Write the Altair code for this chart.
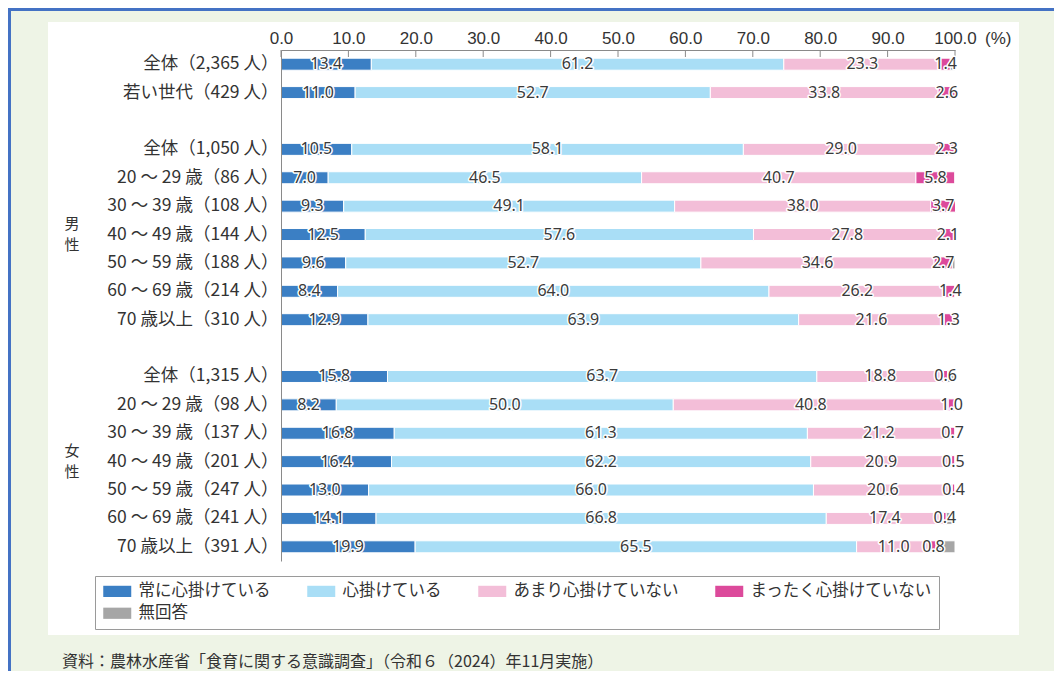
import altair as alt
import pandas as pd

# ---- data ----
rows = [
    "全体（2,365 人）",
    "若い世代（429 人）",
    "全体（1,050 人）",
    "20 ～ 29 歳（86 人）",
    "30 ～ 39 歳（108 人）",
    "40 ～ 49 歳（144 人）",
    "50 ～ 59 歳（188 人）",
    "60 ～ 69 歳（214 人）",
    "70 歳以上（310 人）",
    "全体（1,315 人）",
    "20 ～ 29 歳（98 人）",
    "30 ～ 39 歳（137 人）",
    "40 ～ 49 歳（201 人）",
    "50 ～ 59 歳（247 人）",
    "60 ～ 69 歳（241 人）",
    "70 歳以上（391 人）",
]
row_order = rows[:2] + [" "] + rows[2:9] + ["  "] + rows[9:]

categories = ["常に心掛けている", "心掛けている", "あまり心掛けていない", "まったく心掛けていない", "無回答"]
colors = ["#3b7fc4", "#a9def6", "#f3bed8", "#dc4a9b", "#a6a6a6"]

always = [13.4, 11.0, 10.5, 7.0, 9.3, 12.5, 9.6, 8.4, 12.9, 15.8, 8.2, 16.8, 16.4, 13.0, 14.1, 19.9]
somewhat = [61.2, 52.7, 58.1, 46.5, 49.1, 57.6, 52.7, 64.0, 63.9, 63.7, 50.0, 61.3, 62.2, 66.0, 66.8, 65.5]
not_much = [23.3, 33.8, 29.0, 40.7, 38.0, 27.8, 34.6, 26.2, 21.6, 18.8, 40.8, 21.2, 20.9, 20.6, 17.4, 11.0]
never = [1.4, 2.6, 2.3, 5.8, 3.7, 2.1, 2.7, 1.4, 1.3, 0.6, 1.0, 0.7, 0.5, 0.4, 0.4, 0.8]
no_answer = [0.7, 0.0, 0.1, 0.0, 0.0, 0.0, 0.4, 0.0, 0.3, 1.1, 0.0, 0.0, 0.0, 0.0, 1.3, 2.8]

group_top_chars = ["男", "女"]
group_bottom_chars = ["性", "性"]
group_rows = ["40 ～ 49 歳（144 人）", "40 ～ 49 歳（201 人）"]

x_ticks = [0, 10, 20, 30, 40, 50, 60, 70, 80, 90, 100]

footer = "資料：農林水産省「食育に関する意識調査」（令和６（2024）年11月実施）"

series = [always, somewhat, not_much, never, no_answer]
records = []
for i, r in enumerate(rows):
    for k, cat in enumerate(categories):
        records.append({"row": r, "cat": cat, "order": k, "value": series[k][i],
                        "show": 1 if k < 4 else 0})
df = pd.DataFrame(records)

W, H = 674, 511
JP = "Noto Sans CJK JP"
TXT = "#333333"

x_axis = alt.Axis(orient="top", values=x_ticks, format=".1f", title=None, ticks=False,
                  tickSize=0, labelFlush=False, labelOverlap=False, labelFontSize=17,
                  labelFont="Liberation Sans", labelColor=TXT, labelPadding=3,
                  domainColor="#8a8a8a", grid=False, zindex=2)
y_axis = alt.Axis(title=None, ticks=False, labelFontSize=17.5, labelFont=JP, labelColor=TXT,
                  labelPadding=3, labelLimit=400, domainColor="#8a8a8a", grid=False, zindex=2)

x_scale = alt.Scale(domain=[0, 100], nice=False, zero=True)
y_scale = alt.Scale(domain=row_order, paddingOuter=0, paddingInner=0)

one = alt.Data(values=[{"a": 1}])

# decorations
panel = alt.Chart(one).mark_rect(color="white").encode(
    x=alt.value(-233), x2=alt.value(738), y=alt.value(-28), y2=alt.value(585))
top_border = alt.Chart(one).mark_rect(color="#4472c4").encode(
    x=alt.value(-273), x2=alt.value(773), y=alt.value(-42), y2=alt.value(-39))
left_border = alt.Chart(one).mark_rect(color="#4472c4").encode(
    x=alt.value(-273), x2=alt.value(-270), y=alt.value(-42), y2=alt.value(621))

stacked = alt.Chart(df).transform_stack(
    stack="value", groupby=["row"], as_=["v0", "v1"], sort=[alt.SortField("order")]
).transform_calculate(mid="(datum.v0 + datum.v1) / 2")

bars = stacked.mark_bar(size=12, stroke="white", strokeWidth=1).encode(
    x=alt.X("v0:Q", scale=x_scale, axis=x_axis),
    x2="v1:Q",
    y=alt.Y("row:N", scale=y_scale, axis=y_axis),
    color=alt.Color("cat:N", scale=alt.Scale(domain=categories, range=colors),
                    legend=alt.Legend(title=None, orient="none", legendX=-186, legendY=526,
                                      columns=4, direction="horizontal",
                                      symbolType="M-2,-0.8L2,-0.8L2,0.8L-2,0.8Z",
                                      symbolSize=196, symbolOffset=7, symbolStrokeWidth=0,
                                      labelFontSize=16.5, labelFont=JP, labelColor=TXT,
                                      labelOffset=13, columnPadding=35, rowPadding=5,
                                      padding=7, strokeColor="#9a9a9a", fillColor="white",
                                      labelLimit=400, zindex=2)),
    order="order:Q",
)

ticks = alt.Chart(pd.DataFrame({"t": x_ticks})).mark_rule(color="#8a8a8a").encode(
    x=alt.X("t:Q", scale=x_scale, axis=x_axis), y=alt.value(0), y2=alt.value(7))

labels_src = stacked.transform_filter("datum.show == 1")
halo = labels_src.mark_text(fontSize=16, font="Noto Sans", stroke="white", strokeWidth=3,
                            strokeJoin="round", fill="white").encode(
    x=alt.X("mid:Q", scale=x_scale, axis=x_axis),
    y=alt.Y("row:N", scale=y_scale, axis=y_axis),
    text=alt.Text("value:Q", format=".1f"))
labels = labels_src.mark_text(fontSize=16, font="Noto Sans", fill="#3a3a3a").encode(
    x=alt.X("mid:Q", scale=x_scale, axis=x_axis),
    y=alt.Y("row:N", scale=y_scale, axis=y_axis),
    text=alt.Text("value:Q", format=".1f"))

group_df = pd.DataFrame({"top": group_top_chars, "bottom": group_bottom_chars, "row": group_rows})
groups_top = alt.Chart(group_df).mark_text(
    fontSize=15, font=JP, color=TXT, baseline="middle", align="center", dy=-10.5).encode(
    x=alt.value(-209), y=alt.Y("row:N", scale=y_scale, axis=y_axis), text="top:N")
groups_bottom = alt.Chart(group_df).mark_text(
    fontSize=15, font=JP, color=TXT, baseline="middle", align="center", dy=10.5).encode(
    x=alt.value(-209), y=alt.Y("row:N", scale=y_scale, axis=y_axis), text="bottom:N")

pct = alt.Chart(alt.Data(values=[{"s": "(%)"}])).mark_text(
    fontSize=17, font="Liberation Sans", color=TXT, align="left", baseline="middle").encode(
    x=alt.value(704), y=alt.value(-11), text="s:N")

foot = alt.Chart(alt.Data(values=[{"s": footer}])).mark_text(
    fontSize=16, font=JP, color=TXT, align="left", baseline="middle").encode(
    x=alt.value(-219), y=alt.value(612), text="s:N")

chart = alt.layer(panel, top_border, left_border, bars, ticks, halo, labels,
                  groups_top, groups_bottom, pct, foot).properties(
    width=W, height=H,
    padding={"left": 273, "top": 42, "right": 99, "bottom": 110},
    autosize=alt.AutoSizeParams(type="none"),
).configure(background="#eef4e6").configure_view(stroke=None)

chart.save("out.html", embed_options={"renderer": "svg", "actions": False})
